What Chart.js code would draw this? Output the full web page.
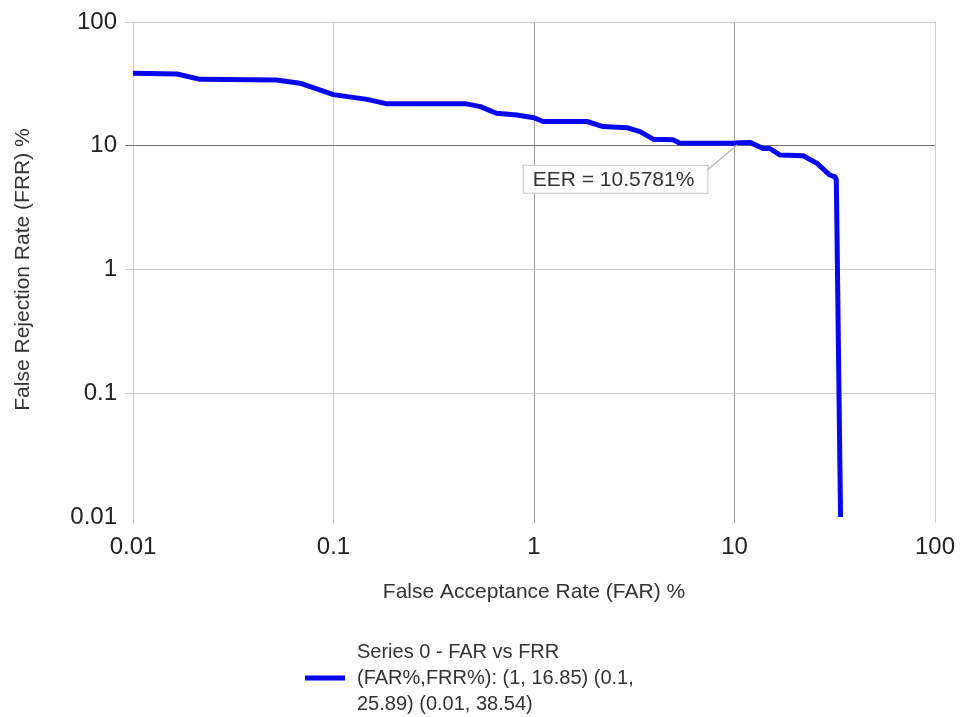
<!DOCTYPE html>
<html>
<head>
<meta charset="utf-8">
<script src="https://cdn.jsdelivr.net/npm/chart.js@4/dist/chart.umd.min.js"></script>
<style>
    html, body { margin: 0; padding: 0; background: #fff; }
    #wrap { width: 961px; height: 717px; }
</style>
</head>
<body>
<div id="wrap"><canvas id="detChart" width="961" height="717"></canvas></div>
<script>
// ===== DATA =====
const farValues = [0.01, 0.0166, 0.0216, 0.052, 0.068, 0.1, 0.147, 0.185, 0.46, 0.54, 0.65, 0.82,
    1.0, 1.11, 1.84, 2.21, 2.91, 3.38, 3.93, 4.93, 5.35, 9.84, 10.58, 12.0, 13.9, 15.0,
    16.9, 22.0, 25.8, 29.9, 31.7, 32.2, 33.8];
const frrValues = [38.54, 38.0, 34.4, 34.0, 32.0, 25.89, 23.7, 21.8, 21.8, 20.7, 18.3, 17.7,
    16.85, 15.7, 15.7, 14.3, 14.0, 13.0, 11.3, 11.2, 10.5, 10.5, 10.58, 10.6, 9.5, 9.5,
    8.4, 8.3, 7.2, 5.8, 5.6, 5.3, 0.0101];
const xTicks = [0.01, 0.1, 1, 10, 100];
const yTicks = [0.01, 0.1, 1, 10, 100];
const eerValue = 10.5781;
const seriesLabel = 'Series 0 - FAR vs FRR (FAR%,FRR%): (1, 16.85) (0.1, 25.89) (0.01, 38.54)';
const legendLines = ['Series 0 - FAR vs FRR', '(FAR%,FRR%): (1, 16.85) (0.1,', '25.89) (0.01, 38.54)'];

const FONT = '"Liberation Sans", Arial, sans-serif';
const BLUE = 'rgb(8, 8, 238)';

const points = farValues.map((x, i) => ({ x, y: frrValues[i] }));

// ===== EER CALLOUT =====
const eerCallout = {
    id: 'eerCallout',
    afterDatasetsDraw(chart) {
        const { ctx, scales } = chart;
        const px = scales.x.getPixelForValue(eerValue);
        const py = scales.y.getPixelForValue(eerValue);
        const text = 'EER = ' + eerValue + '%';
        ctx.save();
        ctx.font = '21px ' + FONT;
        const w = ctx.measureText(text).width + 23;
        const h = 28;
        const right = px - 32;
        const left = right - w;
        const top = py + 22;

        ctx.strokeStyle = '#b4b4b4';
        ctx.lineWidth = 1.2;
        ctx.beginPath();
        ctx.moveTo(px - 2, py + 2);
        ctx.lineTo(right - 1, top + 6);
        ctx.stroke();

        ctx.fillStyle = '#fff';
        ctx.fillRect(left, top, w, h);
        ctx.strokeStyle = '#c4c4c4';
        ctx.lineWidth = 1;
        ctx.strokeRect(left + 0.5, top + 0.5, w, h);

        ctx.fillStyle = '#333';
        ctx.textBaseline = 'middle';
        ctx.textAlign = 'left';
        ctx.fillText(text, left + 10, top + h / 2 + 1);
        ctx.restore();
    }
};

// ===== LEGEND =====
const bottomLegend = {
    id: 'bottomLegend',
    afterDraw(chart) {
        const { ctx } = chart;
        const x0 = 305, lineX = 357, firstY = 652, step = 26;
        ctx.save();
        ctx.strokeStyle = BLUE;
        ctx.lineWidth = 5;
        ctx.beginPath();
        ctx.moveTo(x0, firstY + step);
        ctx.lineTo(x0 + 40, firstY + step);
        ctx.stroke();
        ctx.fillStyle = '#333';
        ctx.font = '20px ' + FONT;
        ctx.textBaseline = 'middle';
        legendLines.forEach((line, i) => ctx.fillText(line, lineX, firstY + i * step));
        ctx.restore();
    }
};

const gridColor = (axis) => (c) => {
    const v = c.tick && c.tick.value;
    if (axis === 'y' && v === 0.01) return 'rgba(0,0,0,0)';
    if (axis === 'y' && v === 10) return '#6e6e6e';
    if (axis === 'x' && (v === 1 || v === 10)) return '#9a9a9a';
    return '#cdcdcd';
};

new Chart(document.getElementById('detChart'), {
    type: 'scatter',
    data: {
        datasets: [{
            label: seriesLabel,
            data: points,
            showLine: true,
            borderColor: BLUE,
            backgroundColor: BLUE,
            borderWidth: 5,
            borderCapStyle: 'round',
            borderJoinStyle: 'round',
            pointRadius: 0,
            tension: 0
        }]
    },
    options: {
        responsive: false,
        animation: false,
        layout: { padding: { top: 22, right: 26, left: 0, bottom: 112 } },
        plugins: {
            legend: { display: false },
            tooltip: { enabled: false }
        },
        scales: {
            x: {
                type: 'logarithmic',
                min: 0.01,
                max: 100,
                afterBuildTicks: (s) => { s.ticks = xTicks.map(v => ({ value: v })); },
                afterFit: (s) => { s.height = 88; s.paddingLeft = 0; s.paddingRight = 0; },
                ticks: {
                    color: '#222',
                    font: { size: 24, family: FONT },
                    padding: 10,
                    maxRotation: 0,
                    autoSkip: false,
                    callback: (v) => String(v)
                },
                grid: { color: gridColor('x'), tickLength: 6, lineWidth: 1 },
                border: { display: false },
                title: {
                    display: true,
                    text: 'False Acceptance Rate (FAR) %',
                    color: '#333',
                    font: { size: 21, family: FONT },
                    padding: 0
                }
            },
            y: {
                type: 'logarithmic',
                min: 0.01,
                max: 100,
                afterBuildTicks: (s) => { s.ticks = yTicks.map(v => ({ value: v })); },
                afterFit: (s) => { s.width = 133; s.paddingTop = 0; s.paddingBottom = 0; },
                ticks: {
                    color: '#222',
                    font: { size: 24, family: FONT },
                    padding: 8,
                    autoSkip: false,
                    callback: (v) => String(v)
                },
                grid: { color: gridColor('y'), tickLength: 8, lineWidth: 1 },
                border: { display: false },
                title: {
                    display: true,
                    text: 'False Rejection Rate (FRR) %',
                    color: '#333',
                    font: { size: 21, family: FONT },
                    padding: { top: 11, bottom: 0 }
                }
            }
        }
    },
    plugins: [eerCallout, bottomLegend]
});
</script>
</body>
</html>
